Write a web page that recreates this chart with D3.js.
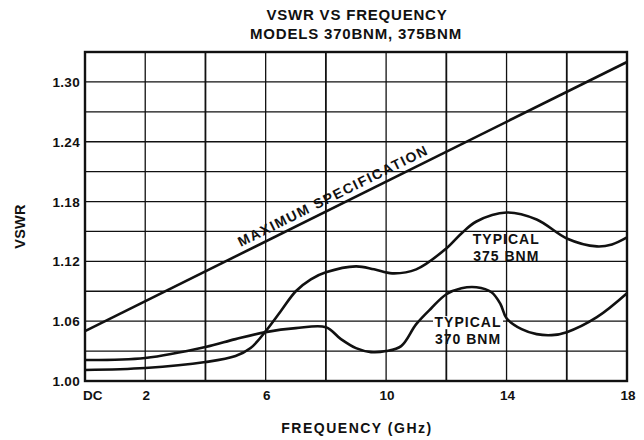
<!DOCTYPE html>
<head>
  <meta charset="utf-8">
  <script src="https://cdn.jsdelivr.net/npm/d3@7"></script>
  <style>
    body { margin: 0; background: #fff; }
    svg text { font-family: 'Liberation Sans', Arial, sans-serif; font-weight: bold; fill: #111; }
  </style>
</head>
<body>
<div id=chart></div>
<script>
  // values
  const x_ticks = [0, 2, 6, 10, 14, 18]
  const x_tick_labels = ['DC', '2', '6', '10', '14', '18']
  const y_ticks = [1.00, 1.06, 1.12, 1.18, 1.24, 1.30]

  const max_spec = [[0, 1.05], [18, 1.32]]

  const bnm375 = [
    [0, 1.011], [2, 1.013], [4, 1.019], [5, 1.025], [5.5, 1.033], [6, 1.05],
    [6.5, 1.07], [7, 1.09], [7.5, 1.102], [8, 1.109], [9, 1.115], [9.6, 1.112],
    [10.2, 1.108], [11, 1.112], [12, 1.133], [12.5, 1.148], [13, 1.16], [14, 1.169],
    [15, 1.162], [16, 1.143], [17, 1.135], [17.5, 1.137], [18, 1.144],
  ]
  const bnm370 = [
    [0, 1.021], [2, 1.023], [4, 1.034], [5, 1.042], [6, 1.049], [7, 1.053], [8, 1.054],
    [8.5, 1.042], [9, 1.033], [9.5, 1.029], [10, 1.03], [10.5, 1.035], [11, 1.057],
    [11.5, 1.073], [12, 1.087], [12.5, 1.093], [13, 1.094], [13.5, 1.089], [13.8, 1.077],
    [14, 1.063], [14.5, 1.052], [15, 1.047], [15.5, 1.046], [16, 1.049], [17, 1.064], [18, 1.088],
  ]

  const width = 644, height = 440
  const margin = { top: 52, right: 17, bottom: 59, left: 85 }

  const x = d3.scaleLinear([0, 18], [margin.left, width - margin.right])
  const y = d3.scaleLinear([1.00, 1.33], [height - margin.bottom, margin.top])

  const svg = d3.select('#chart').append('svg')
    .attr('width', width).attr('height', height)
    .attr('viewBox', [0, 0, width, height])

  // title
  svg.append('text').attr('x', 357).attr('y', 20).attr('text-anchor', 'middle')
    .attr('font-size', 15).attr('letter-spacing', 0.8).text('VSWR VS FREQUENCY')
  svg.append('text').attr('x', 356).attr('y', 39).attr('text-anchor', 'middle')
    .attr('font-size', 15).attr('letter-spacing', 0.8).text('MODELS 370BNM, 375BNM')

  // grid
  const grid = svg.append('g').attr('stroke', '#111')
  grid.selectAll('.vx').data(d3.range(2, 18, 2)).join('line')
    .attr('x1', d => x(d)).attr('x2', d => x(d))
    .attr('y1', y(1.00)).attr('y2', y(1.33))
    .attr('stroke-width', d => d % 4 === 0 ? 1.8 : 1.3)
  grid.selectAll('.hy').data(d3.range(1.03, 1.32, 0.03)).join('line')
    .attr('x1', x(0)).attr('x2', x(18))
    .attr('y1', d => y(d)).attr('y2', d => y(d))
    .attr('stroke-width', d => Math.round(d * 100) % 6 === 0 ? 1.8 : 1.3)

  // frame
  svg.append('rect')
    .attr('x', x(0)).attr('y', y(1.33))
    .attr('width', x(18) - x(0)).attr('height', y(1.00) - y(1.33))
    .attr('fill', 'none').attr('stroke', '#111').attr('stroke-width', 2.4)

  // axes labels
  svg.append('g').selectAll('text').data(y_ticks).join('text')
    .attr('x', x(0) - 5).attr('y', d => y(d) + 5)
    .attr('text-anchor', 'end').attr('font-size', 13.5).attr('letter-spacing', 0.3)
    .text(d => d.toFixed(2))
  svg.append('g').selectAll('text').data(x_ticks).join('text')
    .attr('x', (d, i) => i === 0 ? x(d) - 2 : x(d) + 1)
    .attr('y', y(1.00) + 19)
    .attr('text-anchor', (d, i) => i === 0 ? 'start' : 'middle').attr('font-size', 13.5)
    .text((d, i) => x_tick_labels[i])

  svg.append('text').attr('transform', `translate(25, 226.5) rotate(-90)`)
    .attr('text-anchor', 'middle').attr('font-size', 14.5).attr('letter-spacing', 0.3).text('VSWR')
  svg.append('text').attr('x', 357).attr('y', 433).attr('text-anchor', 'middle')
    .attr('font-size', 14).attr('letter-spacing', 1.5)
    .text('FREQUENCY (GHz)')

  // label backing that breaks the 1.06 gridline
  const t370 = { f: 12.72, v: 1.054 }
  svg.append('rect').attr('x', x(t370.f) - 35).attr('y', y(t370.v) - 11)
    .attr('width', 70).attr('height', 13).attr('fill', '#fff')

  // curves
  const line = d3.line().x(d => x(d[0])).y(d => y(d[1]))
  const smooth = d3.line().x(d => x(d[0])).y(d => y(d[1])).curve(d3.curveCatmullRom.alpha(0.5))
  svg.append('path').attr('d', line(max_spec))
    .attr('fill', 'none').attr('stroke', '#111').attr('stroke-width', 2.6)
  for (const s of [bnm375, bnm370]) {
    svg.append('path').attr('d', smooth(s))
      .attr('fill', 'none').attr('stroke', '#111').attr('stroke-width', 2.6)
  }

  // annotations
  const angle = Math.atan2(y(1.05) - y(1.32), x(18) - x(0)) * 180 / Math.PI
  const f_mid = 8.4
  svg.append('text')
    .attr('transform', `translate(${x(f_mid)}, ${y(1.05 + 0.015 * f_mid)}) rotate(${-angle}) translate(0, -6)`)
    .attr('text-anchor', 'middle').attr('font-size', 14).attr('letter-spacing', 1.5)
    .text('MAXIMUM SPECIFICATION')

  const label = (lines, fx, fy) => {
    lines.forEach((t, i) => svg.append('text')
      .attr('x', x(fx)).attr('y', y(fy) + i * 17)
      .attr('text-anchor', 'middle').attr('font-size', 14).attr('letter-spacing', 1)
      .text(t))
  }
  label(['TYPICAL', '375 BNM'], 13.99, 1.137)
  label(['TYPICAL', '370 BNM'], t370.f, t370.v)
</script>
</body>
